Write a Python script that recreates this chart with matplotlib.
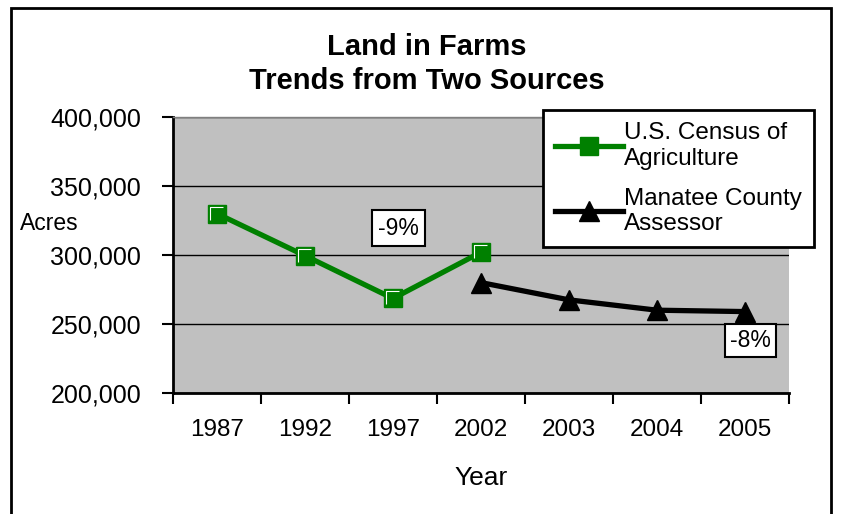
import numpy as np
import matplotlib.pyplot as plt
from matplotlib.patches import Rectangle
from matplotlib.path import Path

plt.rcParams["font.family"] = ["Liberation Sans", "DejaVu Sans"]

# data
years = ["1987", "1992", "1997", "2002", "2003", "2004", "2005"]
census = [330000, 299500, 268500, 302000, np.nan, np.nan, np.nan]
assessor = [np.nan, np.nan, np.nan, 280000, 267500, 260000, 259000]
yticks = [200000, 250000, 300000, 350000, 400000]

fig = plt.figure(figsize=(8.41, 5.14), dpi=100)
ax = fig.add_axes([173 / 841, 1 - 393 / 514, 616 / 841, 276 / 514])
ax.set_facecolor("#C0C0C0")

x = np.arange(len(years))
ax.plot(x, census, color="#008000", lw=3.8, marker="s", ms=12.5,
        mfc="#008000", mec="#008000", label="U.S. Census of\nAgriculture", zorder=3)
# little white highlight in the square markers
hl = Path([(-0.75, -0.6), (-0.75, 0.75), (0.6, 0.75)],
          [Path.MOVETO, Path.LINETO, Path.LINETO])
ax.plot(x, census, ls="none", marker=hl, ms=10, mfc="none", mec="white",
        mew=0.8, zorder=4)
ax.plot(x, assessor, color="black", lw=3.8, marker="^", ms=14,
        label="Manatee County\nAssessor", zorder=3)

ax.set_xlim(-0.5, len(years) - 0.5)
ax.set_ylim(200000, 400000)
ax.set_yticks(yticks)
ax.set_yticklabels([f"{v:,}" for v in yticks], fontsize=18)
ax.yaxis.grid(True, color="black", lw=1)
ax.set_axisbelow(True)

# category boundary ticks, labels centred between
ax.set_xticks(np.arange(-0.5, len(years)), labels=[""] * (len(years) + 1))
ax.set_xticks(x, labels=years, minor=True, fontsize=17.5)
ax.tick_params(axis="x", which="major", length=8, width=1.5, direction="out")
ax.tick_params(axis="x", which="minor", length=0, pad=19)
ax.tick_params(axis="y", length=8, width=1.5, pad=15)

for s in ["left", "bottom"]:
    ax.spines[s].set_linewidth(2)
ax.spines["top"].set_color("#808080")
ax.spines["top"].set_linewidth(1)
ax.spines["right"].set_visible(False)

ax.set_xlabel("Year", fontsize=19, labelpad=18)

ax.text(2.06, 319500, "-9%", fontsize=16.5, ha="center", va="center",
        bbox=dict(boxstyle="square,pad=0.27", fc="white", ec="black", lw=1.5))
ax.text(6.06, 238000, "-8%", fontsize=16.5, ha="center", va="center",
        bbox=dict(boxstyle="square,pad=0.22", fc="white", ec="black", lw=1.5))

fig.text(20 / 841, 1 - 223 / 514, "Acres", fontsize=16.5, ha="left", va="center")
fig.text(427 / 841, 1 - 64 / 514, "Land in Farms\nTrends from Two Sources",
         fontsize=21, fontweight="bold", ha="center", va="center", linespacing=1.3)

leg = fig.legend(loc="upper left", bbox_to_anchor=(543 / 841, 1 - 110 / 514),
                 fontsize=17.5, frameon=True, fancybox=False, edgecolor="black",
                 framealpha=1, handlelength=2.8, handletextpad=0.05,
                 borderpad=0.5, labelspacing=0.75, borderaxespad=0)
leg.get_frame().set_linewidth(2)
for t in leg.get_texts():
    t.set_linespacing(1.2)

fig.patches.append(Rectangle((11 / 841, -0.05), 820 / 841, 1.05 - 8 / 514,
                             transform=fig.transFigure, fill=False,
                             ec="black", lw=2))

fig.savefig("out.png", dpi=100)
